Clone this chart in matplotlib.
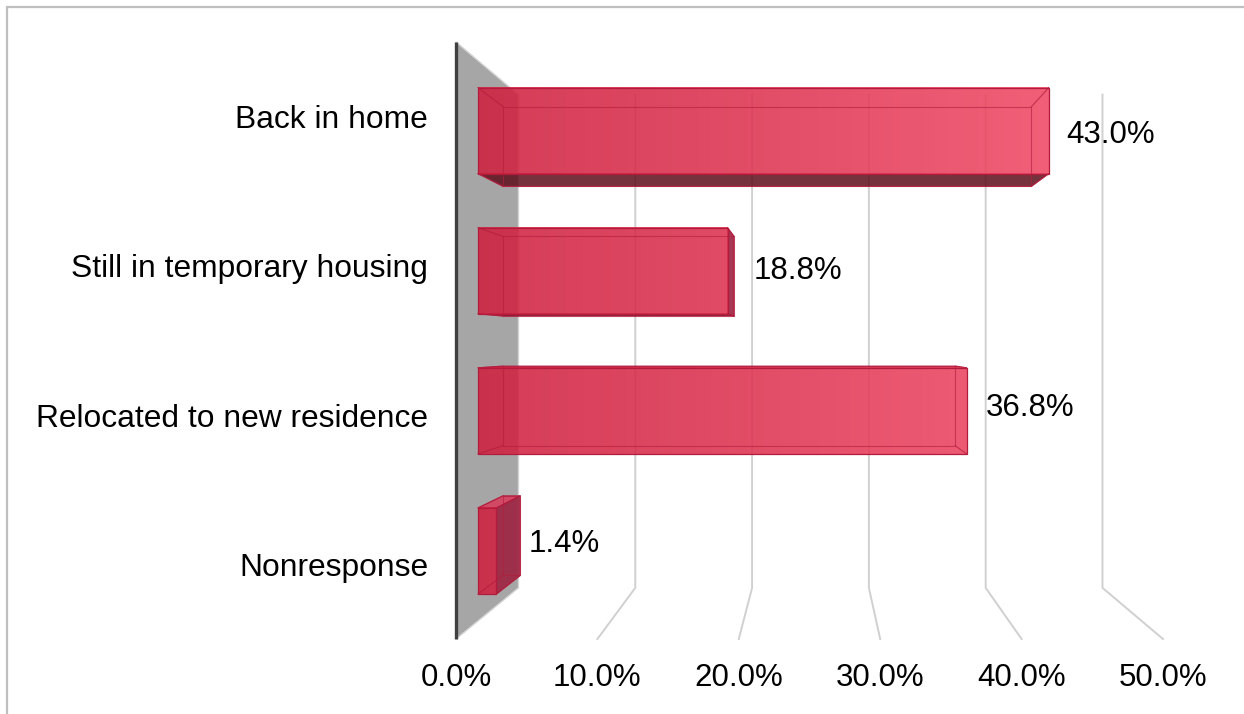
import numpy as np
import matplotlib.pyplot as plt
from matplotlib.patches import Polygon, Rectangle
from matplotlib.colors import LinearSegmentedColormap

categories = ['Back in home', 'Still in temporary housing',
              'Relocated to new residence', 'Nonresponse']
shares = [43.0, 18.8, 36.8, 1.4]
ticks = [0, 10, 20, 30, 40, 50]
tick_labels = ['0.0%', '10.0%', '20.0%', '30.0%', '40.0%', '50.0%']

plt.rcParams['font.family'] = ['Liberation Sans', 'DejaVu Sans']
plt.rcParams['font.size'] = 22.5

fig = plt.figure(figsize=(12.44, 7.14), dpi=100)
# axes box = front plane of the 3D plot area
ax = fig.add_axes([456 / 1244, 75 / 714, 707 / 1244, 597 / 714])

# simple perspective: depth scales points toward a vanishing point
VP = np.array([25.4, 1.47])
WALL_BACK = 0.826
BAR_FRONT, BAR_BACK = 0.939, 0.869
LABEL_DEPTH = 0.915
BAR_H = 0.614
YMIN, YMAX = -0.5, len(categories) - 0.5


def proj(x, y, s):
    return VP + s * (np.array([x, y], dtype=float) - VP)


# gridlines on back wall and floor
for v in ticks[1:]:
    pts = np.array([proj(v, YMAX, WALL_BACK), proj(v, YMIN, WALL_BACK), proj(v, YMIN, 1)])
    ax.plot(pts[:, 0], pts[:, 1], color='#D0D0D0', lw=1.4, zorder=1, clip_on=False)

# grey side wall
wall = [proj(0, YMIN, 1), proj(0, YMAX, 1), proj(0, YMAX, WALL_BACK), proj(0, YMIN, WALL_BACK)]
ax.add_patch(Polygon(wall, closed=True, facecolor='#A6A6A6', edgecolor='#D5D5D5',
                     lw=1.0, zorder=2, clip_on=False))
ax.plot([0, 0], [YMIN, YMAX], color='#404040', lw=2.4, zorder=3,
        solid_capstyle='butt', clip_on=False)

bar_cmap = LinearSegmentedColormap.from_list('bar', ['#CE1F3E', '#F5516C'])
edge_col = '#B31B3C'

for i, v in enumerate(shares):
    yc = len(categories) - 1 - i
    y0, y1 = yc - BAR_H / 2, yc + BAR_H / 2

    def c(x, y, s):
        return proj(x, y, s)

    # side faces seen in perspective
    if VP[1] < y0:
        bottom = [c(0, y0, BAR_FRONT), c(v, y0, BAR_FRONT), c(v, y0, BAR_BACK), c(0, y0, BAR_BACK)]
        ax.add_patch(Polygon(bottom, closed=True, facecolor='#5E0E1B', alpha=0.85,
                             edgecolor=edge_col, lw=0.8, zorder=5, clip_on=False))
    if VP[1] > y1:
        top = [c(0, y1, BAR_FRONT), c(v, y1, BAR_FRONT), c(v, y1, BAR_BACK), c(0, y1, BAR_BACK)]
        ax.add_patch(Polygon(top, closed=True, facecolor='#D6405E', alpha=0.9,
                             edgecolor=edge_col, lw=0.8, zorder=5, clip_on=False))
    if VP[0] > v:
        right = [c(v, y0, BAR_FRONT), c(v, y1, BAR_FRONT), c(v, y1, BAR_BACK), c(v, y0, BAR_BACK)]
        ax.add_patch(Polygon(right, closed=True, facecolor='#9E2240', alpha=0.9,
                             edgecolor=edge_col, lw=0.8, zorder=5, clip_on=False))

    # front face with left-to-right shading
    fx0, fy0 = c(0, y0, BAR_FRONT)
    fx1, fy1 = c(v, y1, BAR_FRONT)
    grad = np.linspace(fx0, fx1, 200).reshape(1, -1)
    ax.imshow(grad, extent=[fx0, fx1, fy0, fy1], cmap=bar_cmap, vmin=0, vmax=50,
              aspect='auto', alpha=0.88, zorder=6, interpolation='bilinear', clip_on=False)
    ax.add_patch(Rectangle((fx0, fy0), fx1 - fx0, fy1 - fy0, fill=False,
                           edgecolor=edge_col, lw=0.9, zorder=7, clip_on=False))

    # back edges showing through the translucent box
    back = np.array([c(0, y0, BAR_BACK), c(v, y0, BAR_BACK), c(v, y1, BAR_BACK),
                     c(0, y1, BAR_BACK), c(0, y0, BAR_BACK)])
    ax.plot(back[:, 0], back[:, 1], color=edge_col, lw=0.8, alpha=0.6, zorder=7, clip_on=False)
    for x in (0, v):
        for y in (y0, y1):
            seg = np.array([c(x, y, BAR_FRONT), c(x, y, BAR_BACK)])
            ax.plot(seg[:, 0], seg[:, 1], color=edge_col, lw=0.8, alpha=0.7,
                    zorder=7, clip_on=False)

    lx, ly = proj(v, yc, LABEL_DEPTH)
    ax.annotate(f'{v:.1f}%', (lx, ly), xytext=(17, 1), textcoords='offset points',
                ha='left', va='center', color='black', zorder=8)

ax.set_xlim(0, 50)
ax.set_ylim(YMIN, YMAX)
ax.set_xticks(ticks, tick_labels)
ax.set_yticks(range(len(categories)), categories[::-1])
ax.tick_params(axis='x', length=0, pad=17)
ax.tick_params(axis='y', length=0, pad=20, labelsize=22.9)
for sp in ax.spines.values():
    sp.set_visible(False)
ax.patch.set_visible(False)

# chart area border
fig.add_artist(Rectangle((7 / 1244, -0.2), 1.5, 0.2 + 1 - 6.5 / 714, transform=fig.transFigure,
                         fill=False, edgecolor='#BFBFBF', lw=1.6))

fig.savefig('out.png', dpi=100)
